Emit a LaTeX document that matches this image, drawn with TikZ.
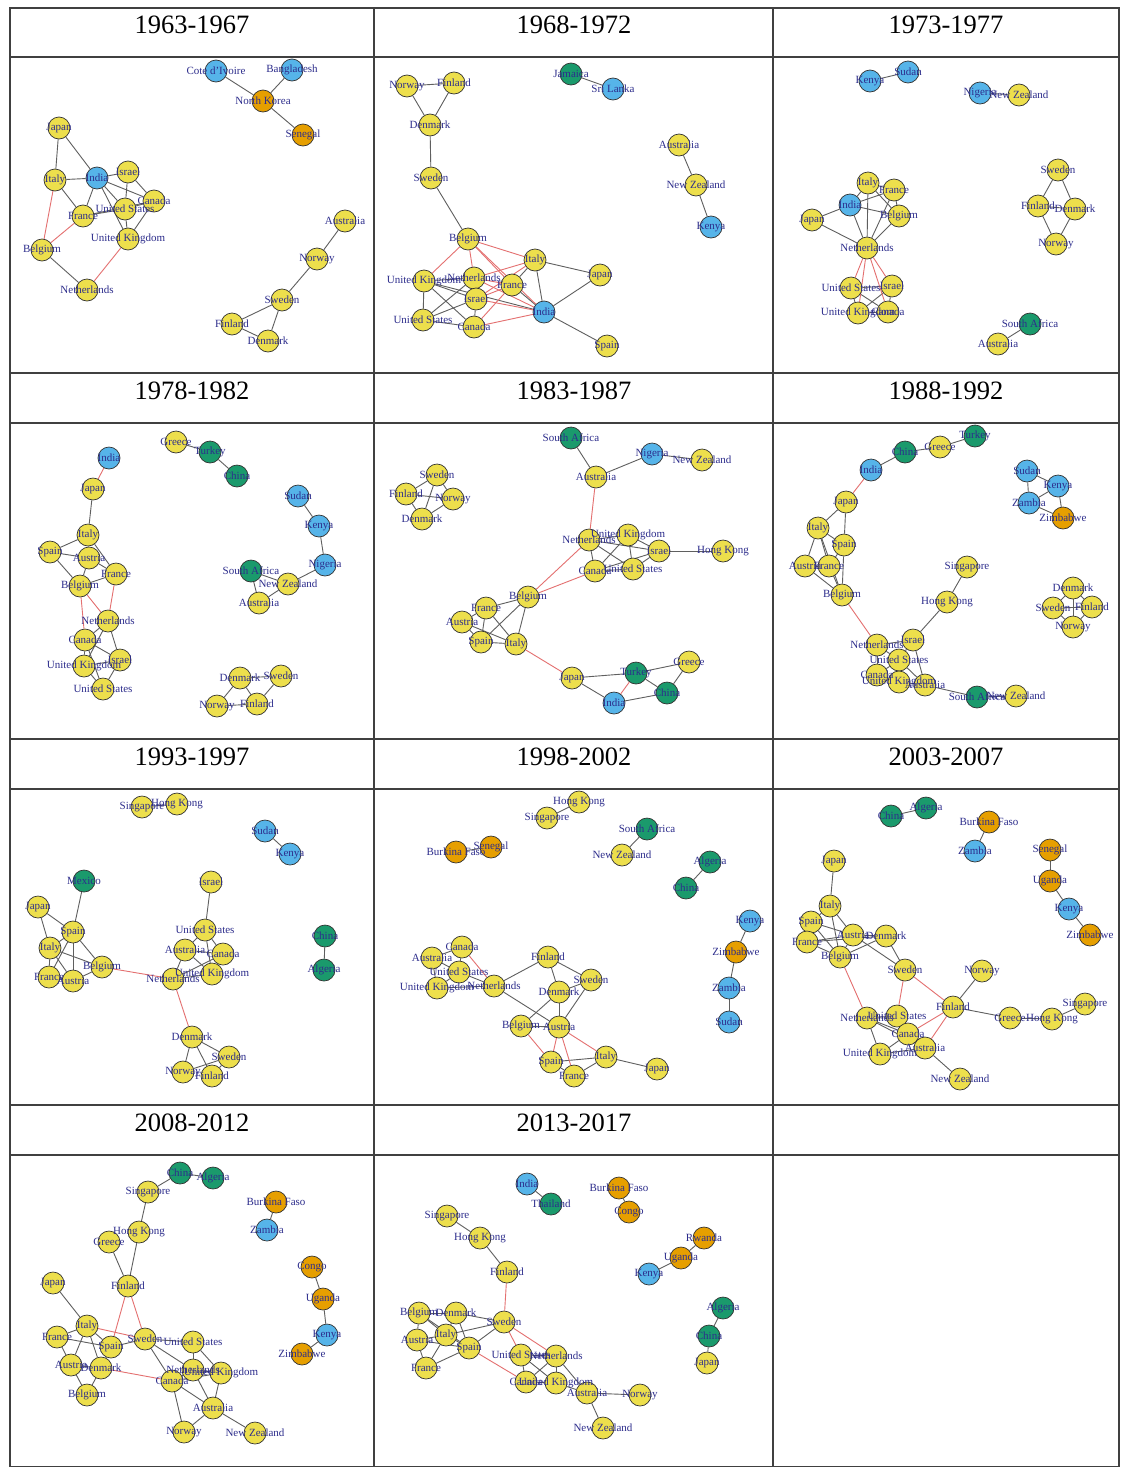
\documentclass[tikz,border=0pt]{standalone}
\usepackage{fontspec}
\setmainfont{Liberation Serif}
\pgfdeclarelayer{bg}\pgfsetlayers{bg,main}
\definecolor{cY}{HTML}{EDDF4C}
\definecolor{cB}{HTML}{56B4E9}
\definecolor{cO}{HTML}{E69F00}
\definecolor{cG}{HTML}{1A9A6C}
\definecolor{labc}{RGB}{45,45,140}
\definecolor{edg}{RGB}{95,95,95}
\definecolor{edr}{RGB}{228,112,112}
\tikzset{
  vtx/.style={circle,draw=black!80,line width=0.7pt,minimum size=22pt,inner sep=0pt},
  vY/.style={vtx,fill=cY}, vB/.style={vtx,fill=cB}, vO/.style={vtx,fill=cO}, vG/.style={vtx,fill=cG},
  lab/.style={text=labc,font=\fontsize{11}{11}\selectfont,inner sep=0pt},
  ge/.style={draw=edg,line width=0.9pt},
  re/.style={draw=edr,line width=0.9pt},
  ttl/.style={font=\fontsize{26.5}{26.5}\selectfont,text=black,inner sep=0pt},
  grid/.style={draw=black!75,line width=1.2pt}
}
\gdef\LabList{}
\newcommand\Vx[4]{\node[v#3] (#1) at (#2) {};\expandafter\gdef\expandafter\LabList\expandafter{\LabList\node[lab] (#1L) at (#2) {#4};}}
\newcommand\EdG[1]{\foreach \a/\b in {#1}\draw[ge](\a)--(\b);}
\newcommand\EdR[1]{\foreach \a/\b in {#1}\draw[re](\a)--(\b);}
\begin{document}
\begin{tikzpicture}[x=1pt,y=-1pt]
\useasboundingbox (0,0) rectangle (1125,1467);
\begin{pgfonlayer}{bg}
\fill[white] (0,0) rectangle (1125,1467);
\end{pgfonlayer}
% grid
\draw[grid] (10,8) rectangle (1119,1467);
\foreach \yy in {57,373,423,739,789,1105,1155} \draw[grid] (10,\yy) -- (1119,\yy);
\draw[grid] (374,8) -- (374,1467);
\draw[grid] (773,8) -- (773,1467);
% titles
\node[ttl] (t1) at (192,25) {1963-1967};
\node[ttl] (t2) at (574,25) {1968-1972};
\node[ttl] (t3) at (946,25) {1973-1977};
\node[ttl] (t4) at (192,391) {1978-1982};
\node[ttl] (t5) at (574,391) {1983-1987};
\node[ttl] (t6) at (946,391) {1988-1992};
\node[ttl] (t7) at (192,757) {1993-1997};
\node[ttl] (t8) at (574,757) {1998-2002};
\node[ttl] (t9) at (946,757) {2003-2007};
\node[ttl] (t10) at (192,1123) {2008-2012};
\node[ttl] (t11) at (574,1123) {2013-2017};

% ===== panel a 1963-1967
\Vx{aCI}{216,71}{B}{Cote d'Ivoire}
\Vx{aBD}{292,70}{B}{Bangladesh}
\Vx{aKP}{263,101}{O}{North Korea}
\Vx{aSN}{303,135}{O}{Senegal}
\Vx{aJP}{59,128}{Y}{Japan}
\Vx{aIT}{55,180}{Y}{Italy}
\Vx{aIN}{97,178}{B}{India}
\Vx{aIL}{128,172}{Y}{Israel}
\Vx{aCA}{154,201}{Y}{Canada}
\Vx{aUS}{125,209}{Y}{United States}
\Vx{aFR}{83,216}{Y}{France}
\Vx{aUK}{128,239}{Y}{United Kingdom}
\Vx{aBE}{42,250}{Y}{Belgium}
\Vx{aNL}{87,290}{Y}{Netherlands}
\Vx{aAU}{345,221}{Y}{Australia}
\Vx{aNO}{317,259}{Y}{Norway}
\Vx{aSE}{282,300}{Y}{Sweden}
\Vx{aFI}{232,324}{Y}{Finland}
\Vx{aDK}{268,341}{Y}{Denmark}
\begin{pgfonlayer}{bg}
\EdG{aCI/aKP,aBD/aKP,aKP/aSN,aJP/aIT,aJP/aIN,aIT/aIN,aIT/aFR,aIN/aIL,aIN/aCA,aIN/aUS,aIN/aFR,aIN/aUK,aIL/aUS,aIL/aCA,aCA/aUS,aCA/aUK,aFR/aUS,aFR/aCA,aUS/aUK,aBE/aNL,aAU/aNO,aNO/aSE,aSE/aFI,aSE/aDK,aFI/aDK}
\EdR{aIT/aBE,aFR/aBE,aUK/aNL}
\end{pgfonlayer}

% ===== panel b 1968-1972
\Vx{bNO}{407,86}{Y}{Norway}
\Vx{bFI}{454,83}{Y}{Finland}
\Vx{bDK}{430,125}{Y}{Denmark}
\Vx{bJM}{571,74}{G}{Jamaica}
\Vx{bLK}{613,89}{B}{Sri Lanka}
\Vx{bSE}{431,178}{Y}{Sweden}
\Vx{bAU}{679,145}{Y}{Australia}
\Vx{bNZ}{696,185}{Y}{New Zealand}
\Vx{bKE}{711,227}{B}{Kenya}
\Vx{bBE}{468,239}{Y}{Belgium}
\Vx{bIT}{535,260}{Y}{Italy}
\Vx{bJP}{600,275}{Y}{Japan}
\Vx{bUK}{424,281}{Y}{United Kingdom}
\Vx{bNL}{474,278}{Y}{Netherlands}
\Vx{bFR}{512,285}{Y}{France}
\Vx{bIL}{476,299}{Y}{Israel}
\Vx{bIN}{544,312}{B}{India}
\Vx{bUS}{423,320}{Y}{United States}
\Vx{bCA}{474,327}{Y}{Canada}
\Vx{bES}{607,346}{Y}{Spain}
\begin{pgfonlayer}{bg}
\EdG{bNO/bFI,bNO/bDK,bFI/bDK,bDK/bSE,bSE/bBE,bJM/bLK,bAU/bNZ,bNZ/bKE,bIT/bJP,bIT/bIN,bJP/bIN,bIN/bES,bIN/bUK,bIN/bFR,bUK/bNL,bUK/bUS,bUK/bCA,bUK/bIL,bNL/bIL,bNL/bUS,bIL/bCA,bIL/bUS,bUS/bCA,bIT/bFR}
\EdR{bBE/bIT,bBE/bUK,bBE/bNL,bBE/bFR,bBE/bIN,bIT/bNL,bIT/bIL,bIN/bNL,bIN/bCA,bIN/bIL,bNL/bFR,bIL/bFR,bFR/bCA}
\end{pgfonlayer}

% ===== panel c 1973-1977
\Vx{cKE}{870,81}{B}{Kenya}
\Vx{cSD}{908,72}{B}{Sudan}
\Vx{cNG}{980,93}{B}{Nigeria}
\Vx{cNZ}{1019,95}{Y}{New Zealand}
\Vx{cSE}{1058,170}{Y}{Sweden}
\Vx{cFI}{1038,206}{Y}{Finland}
\Vx{cDK}{1075,209}{Y}{Denmark}
\Vx{cNO}{1056,244}{Y}{Norway}
\Vx{cIT}{868,183}{Y}{Italy}
\Vx{cFR}{894,190}{Y}{France}
\Vx{cIN}{850,205}{B}{India}
\Vx{cBE}{899,216}{Y}{Belgium}
\Vx{cJP}{812,220}{Y}{Japan}
\Vx{cNL}{867,248}{Y}{Netherlands}
\Vx{cUS}{851,288}{Y}{United States}
\Vx{cIL}{892,286}{Y}{Israel}
\Vx{cUK}{858,313}{Y}{United Kingdom}
\Vx{cCA}{888,312}{Y}{Canada}
\Vx{cZA}{1030,324}{G}{South Africa}
\Vx{cAU}{998,344}{Y}{Australia}
\begin{pgfonlayer}{bg}
\EdG{cKE/cSD,cNG/cNZ,cSE/cFI,cSE/cDK,cFI/cNO,cDK/cNO,cFI/cDK,cIT/cFR,cIT/cIN,cIT/cBE,cIT/cNL,cFR/cIN,cIN/cBE,cFR/cBE,cFR/cNL,cBE/cNL,cIN/cJP,cJP/cNL,cIN/cNL,cUS/cIL,cUS/cUK,cUS/cCA,cIL/cUK,cIL/cCA,cUK/cCA,cZA/cAU}
\EdR{cNL/cUS,cNL/cIL,cNL/cUK,cNL/cCA}
\end{pgfonlayer}

% ===== panel d 1978-1982
\Vx{dIN}{109,458}{B}{India}
\Vx{dJP}{93,489}{Y}{Japan}
\Vx{dGR}{176,442}{Y}{Greece}
\Vx{dTR}{210,452}{G}{Turkey}
\Vx{dCN}{237,476}{G}{China}
\Vx{dSD}{298,496}{B}{Sudan}
\Vx{dKE}{319,526}{B}{Kenya}
\Vx{dNG}{325,565}{B}{Nigeria}
\Vx{dZA}{251,571}{G}{South Africa}
\Vx{dNZ}{288,584}{Y}{New Zealand}
\Vx{dAU}{259,603}{Y}{Australia}
\Vx{dIT}{88,535}{Y}{Italy}
\Vx{dES}{50,552}{Y}{Spain}
\Vx{dAT}{89,558}{Y}{Austria}
\Vx{dFR}{116,574}{Y}{France}
\Vx{dBE}{80,586}{Y}{Belgium}
\Vx{dNL}{108,621}{Y}{Netherlands}
\Vx{dCA}{85,640}{Y}{Canada}
\Vx{dIL}{120,660}{Y}{Israel}
\Vx{dUK}{84,666}{Y}{United Kingdom}
\Vx{dUS}{103,689}{Y}{United States}
\Vx{dDK}{240,678}{Y}{Denmark}
\Vx{dSE}{281,676}{Y}{Sweden}
\Vx{dNO}{217,706}{Y}{Norway}
\Vx{dFI}{257,704}{Y}{Finland}
\begin{pgfonlayer}{bg}
\EdG{dJP/dIT,dIT/dES,dIT/dAT,dIT/dFR,dES/dAT,dES/dBE,dAT/dFR,dAT/dBE,dFR/dBE,dNL/dCA,dNL/dIL,dNL/dUK,dCA/dIL,dCA/dUK,dCA/dUS,dUK/dIL,dUK/dUS,dIL/dUS,dGR/dTR,dTR/dCN,dSD/dKE,dKE/dNG,dNG/dNZ,dZA/dAU,dZA/dNZ,dNZ/dAU,dDK/dSE,dDK/dNO,dDK/dFI,dNO/dFI,dSE/dFI}
\EdR{dIN/dJP,dBE/dNL,dBE/dCA,dFR/dNL}
\end{pgfonlayer}

% ===== panel e 1983-1987
\Vx{eZA}{571,438}{G}{South Africa}
\Vx{eNG}{652,454}{B}{Nigeria}
\Vx{eNZ}{702,460}{Y}{New Zealand}
\Vx{eAU}{596,477}{Y}{Australia}
\Vx{eSE}{437,475}{Y}{Sweden}
\Vx{eFI}{406,494}{Y}{Finland}
\Vx{eNO}{453,499}{Y}{Norway}
\Vx{eDK}{422,519}{Y}{Denmark}
\Vx{eNL}{589,540}{Y}{Netherlands}
\Vx{eUK}{628,535}{Y}{United Kingdom}
\Vx{eIL}{659,551}{Y}{Israel}
\Vx{eHK}{723,551}{Y}{Hong Kong}
\Vx{eCA}{595,571}{Y}{Canada}
\Vx{eUS}{633,569}{Y}{United States}
\Vx{eBE}{528,597}{Y}{Belgium}
\Vx{eFR}{486,608}{Y}{France}
\Vx{eAT}{462,622}{Y}{Austria}
\Vx{eES}{481,642}{Y}{Spain}
\Vx{eIT}{516,644}{Y}{Italy}
\Vx{eJP}{572,678}{Y}{Japan}
\Vx{eTR}{636,673}{G}{Turkey}
\Vx{eGR}{689,662}{Y}{Greece}
\Vx{eCN}{667,693}{G}{China}
\Vx{eIN}{614,703}{B}{India}
\begin{pgfonlayer}{bg}
\EdG{eZA/eAU,eNG/eAU,eNG/eNZ,eSE/eFI,eSE/eNO,eSE/eDK,eFI/eNO,eFI/eDK,eNO/eDK,eNL/eUK,eNL/eIL,eNL/eCA,eNL/eUS,eUK/eIL,eUK/eUS,eUK/eCA,eIL/eUS,eIL/eCA,eCA/eUS,eIL/eHK,eBE/eFR,eBE/eES,eBE/eIT,eFR/eAT,eFR/eES,eFR/eIT,eAT/eES,eES/eIT,eAT/eIT,eJP/eTR,eJP/eIN,eTR/eGR,eTR/eCN,eGR/eCN,eCN/eIN}
\EdR{eAU/eNL,eNL/eBE,eCA/eBE,eIT/eJP,eTR/eIN}
\end{pgfonlayer}

% ===== panel f 1988-1992
\Vx{fTR}{975,436}{G}{Turkey}
\Vx{fGR}{940,447}{Y}{Greece}
\Vx{fCN}{905,452}{G}{China}
\Vx{fIN}{871,470}{B}{India}
\Vx{fSD}{1027,471}{B}{Sudan}
\Vx{fKE}{1058,486}{B}{Kenya}
\Vx{fZM}{1029,503}{B}{Zambia}
\Vx{fZW}{1063,518}{O}{Zimbabwe}
\Vx{fJP}{846,502}{Y}{Japan}
\Vx{fIT}{818,528}{Y}{Italy}
\Vx{fES}{844,545}{Y}{Spain}
\Vx{fAT}{805,566}{Y}{Austria}
\Vx{fFR}{829,566}{Y}{France}
\Vx{fBE}{842,595}{Y}{Belgium}
\Vx{fSG}{967,567}{Y}{Singapore}
\Vx{fHK}{947,602}{Y}{Hong Kong}
\Vx{fDK}{1073,588}{Y}{Denmark}
\Vx{fSE}{1053,608}{Y}{Sweden}
\Vx{fFI}{1092,607}{Y}{Finland}
\Vx{fNO}{1073,627}{Y}{Norway}
\Vx{fNL}{877,645}{Y}{Netherlands}
\Vx{fIL}{913,640}{Y}{Israel}
\Vx{fUS}{899,660}{Y}{United States}
\Vx{fCA}{877,675}{Y}{Canada}
\Vx{fUK}{899,682}{Y}{United Kingdom}
\Vx{fAU}{925,685}{Y}{Australia}
\Vx{fZA}{977,697}{G}{South Africa}
\Vx{fNZ}{1016,696}{Y}{New Zealand}
\begin{pgfonlayer}{bg}
\EdG{fTR/fGR,fGR/fCN,fCN/fIN,fJP/fIT,fJP/fES,fIT/fES,fIT/fAT,fIT/fFR,fES/fFR,fES/fBE,fAT/fFR,fAT/fBE,fFR/fBE,fIT/fBE,fSG/fHK,fHK/fIL,fNL/fIL,fNL/fUS,fNL/fCA,fIL/fUS,fUS/fCA,fUS/fUK,fUS/fAU,fCA/fUK,fUK/fAU,fAU/fZA,fZA/fNZ,fIL/fAU,fSD/fKE,fSD/fZM,fKE/fZM,fKE/fZW,fZM/fZW,fDK/fSE,fDK/fFI,fDK/fNO,fSE/fFI,fSE/fNO,fFI/fNO}
\EdR{fIN/fJP,fBE/fNL}
\end{pgfonlayer}

% ===== panel g 1993-1997
\Vx{gSG}{142,807}{Y}{Singapore}
\Vx{gHK}{177,804}{Y}{Hong Kong}
\Vx{gSD}{265,831}{B}{Sudan}
\Vx{gKE}{290,854}{B}{Kenya}
\Vx{gMX}{84,881}{G}{Mexico}
\Vx{gIL}{211,882}{Y}{Israel}
\Vx{gJP}{38,907}{Y}{Japan}
\Vx{gES}{73,932}{Y}{Spain}
\Vx{gUS}{205,930}{Y}{United States}
\Vx{gCN}{325,936}{G}{China}
\Vx{gIT}{50,948}{Y}{Italy}
\Vx{gAU}{185,950}{Y}{Australia}
\Vx{gCA}{223,954}{Y}{Canada}
\Vx{gBE}{102,967}{Y}{Belgium}
\Vx{gUK}{212,974}{Y}{United Kingdom}
\Vx{gDZ}{324,970}{G}{Algeria}
\Vx{gFR}{49,977}{Y}{France}
\Vx{gAT}{73,981}{Y}{Austria}
\Vx{gNL}{173,979}{Y}{Netherlands}
\Vx{gDK}{192,1037}{Y}{Denmark}
\Vx{gSE}{229,1057}{Y}{Sweden}
\Vx{gNO}{183,1072}{Y}{Norway}
\Vx{gFI}{212,1076}{Y}{Finland}
\begin{pgfonlayer}{bg}
\EdG{gSG/gHK,gSD/gKE,gCN/gDZ,gMX/gES,gJP/gES,gJP/gIT,gES/gIT,gES/gBE,gES/gAT,gES/gFR,gIT/gFR,gIT/gAT,gIT/gBE,gFR/gAT,gAT/gBE,gIL/gUS,gUS/gAU,gUS/gCA,gUS/gUK,gAU/gCA,gAU/gNL,gAU/gUK,gCA/gNL,gCA/gUK,gNL/gUK,gDK/gSE,gDK/gNO,gDK/gFI,gNO/gSE,gSE/gFI}
\EdR{gBE/gNL,gNL/gDK}
\end{pgfonlayer}

% ===== panel h 1998-2002
\Vx{hHK}{579,802}{Y}{Hong Kong}
\Vx{hSG}{547,818}{Y}{Singapore}
\Vx{hZA}{647,829}{G}{South Africa}
\Vx{hBF}{456,852}{O}{Burkina Faso}
\Vx{hSN}{491,847}{O}{Senegal}
\Vx{hNZ}{622,855}{Y}{New Zealand}
\Vx{hDZ}{710,862}{G}{Algeria}
\Vx{hCN}{686,888}{G}{China}
\Vx{hKE}{750,921}{B}{Kenya}
\Vx{hZW}{736,952}{O}{Zimbabwe}
\Vx{hZM}{729,988}{B}{Zambia}
\Vx{hSD}{729,1022}{B}{Sudan}
\Vx{hCA}{462,947}{Y}{Canada}
\Vx{hAU}{432,958}{Y}{Australia}
\Vx{hFI}{548,957}{Y}{Finland}
\Vx{hUS}{459,972}{Y}{United States}
\Vx{hSE}{591,980}{Y}{Sweden}
\Vx{hUK}{437,988}{Y}{United Kingdom}
\Vx{hNL}{494,986}{Y}{Netherlands}
\Vx{hDK}{559,992}{Y}{Denmark}
\Vx{hBE}{521,1026}{Y}{Belgium}
\Vx{hAT}{559,1027}{Y}{Austria}
\Vx{hES}{551,1062}{Y}{Spain}
\Vx{hIT}{606,1057}{Y}{Italy}
\Vx{hFR}{574,1076}{Y}{France}
\Vx{hJP}{657,1069}{Y}{Japan}
\begin{pgfonlayer}{bg}
\EdG{hHK/hSG,hZA/hNZ,hSN/hBF,hDZ/hCN,hKE/hZW,hZW/hZM,hZM/hSD,hCA/hAU,hCA/hUS,hAU/hUS,hAU/hUK,hUS/hUK,hUS/hNL,hUK/hNL,hNL/hFI,hNL/hAT,hFI/hDK,hFI/hSE,hSE/hDK,hSE/hAT,hDK/hBE,hDK/hAT,hBE/hAT,hES/hIT,hES/hFR,hIT/hFR,hIT/hJP}
\EdR{hCA/hNL,hBE/hES,hAT/hES,hAT/hFR,hAT/hIT}
\end{pgfonlayer}

% ===== panel i 2003-2007
\Vx{iCN}{891,816}{G}{China}
\Vx{iDZ}{926,808}{G}{Algeria}
\Vx{iBF}{989,822}{O}{Burkina Faso}
\Vx{iZM}{975,851}{B}{Zambia}
\Vx{iSN}{1050,850}{O}{Senegal}
\Vx{iUG}{1050,881}{O}{Uganda}
\Vx{iKE}{1069,909}{B}{Kenya}
\Vx{iZW}{1090,935}{O}{Zimbabwe}
\Vx{iJP}{834,861}{Y}{Japan}
\Vx{iIT}{830,906}{Y}{Italy}
\Vx{iES}{811,922}{Y}{Spain}
\Vx{iAT}{853,935}{Y}{Austria}
\Vx{iDK}{886,936}{Y}{Denmark}
\Vx{iFR}{807,942}{Y}{France}
\Vx{iBE}{840,957}{Y}{Belgium}
\Vx{iSE}{905,970}{Y}{Sweden}
\Vx{iNO}{982,971}{Y}{Norway}
\Vx{iFI}{953,1007}{Y}{Finland}
\Vx{iSG}{1085,1004}{Y}{Singapore}
\Vx{iGR}{1010,1018}{Y}{Greece}
\Vx{iHK}{1052,1019}{Y}{Hong Kong}
\Vx{iNL}{867,1018}{Y}{Netherlands}
\Vx{iUS}{897,1016}{Y}{United States}
\Vx{iCA}{908,1034}{Y}{Canada}
\Vx{iAU}{925,1048}{Y}{Australia}
\Vx{iUK}{880,1054}{Y}{United Kingdom}
\Vx{iNZ}{960,1079}{Y}{New Zealand}
\begin{pgfonlayer}{bg}
\EdG{iCN/iDZ,iBF/iZM,iSN/iUG,iUG/iKE,iKE/iZW,iJP/iIT,iIT/iES,iIT/iAT,iIT/iBE,iES/iFR,iES/iAT,iES/iBE,iFR/iAT,iFR/iBE,iAT/iDK,iAT/iBE,iDK/iBE,iDK/iSE,iAT/iSE,iNO/iFI,iFI/iGR,iGR/iHK,iHK/iSG,iNL/iUS,iNL/iCA,iNL/iUK,iUS/iCA,iCA/iAU,iCA/iUK,iUK/iAU,iAU/iNZ,iNL/iAU,iFR/iDK}
\EdR{iBE/iNL,iSE/iUS,iSE/iFI,iFI/iCA,iFI/iAU}
\end{pgfonlayer}

% ===== panel j 2008-2012
\Vx{jCN}{180,1173}{G}{China}
\Vx{jDZ}{213,1178}{G}{Algeria}
\Vx{jSG}{148,1192}{Y}{Singapore}
\Vx{jBF}{276,1202}{O}{Burkina Faso}
\Vx{jZM}{267,1230}{B}{Zambia}
\Vx{jHK}{139,1232}{Y}{Hong Kong}
\Vx{jGR}{109,1242}{Y}{Greece}
\Vx{jCG}{312,1267}{O}{Congo}
\Vx{jJP}{53,1283}{Y}{Japan}
\Vx{jFI}{128,1286}{Y}{Finland}
\Vx{jUG}{323,1299}{O}{Uganda}
\Vx{jKE}{327,1335}{B}{Kenya}
\Vx{jIT}{87,1326}{Y}{Italy}
\Vx{jFR}{57,1337}{Y}{France}
\Vx{jSE}{145,1339}{Y}{Sweden}
\Vx{jUS}{193,1342}{Y}{United States}
\Vx{jES}{111,1347}{Y}{Spain}
\Vx{jZW}{302,1354}{O}{Zimbabwe}
\Vx{jAT}{71,1365}{Y}{Austria}
\Vx{jDK}{101,1368}{Y}{Denmark}
\Vx{jNL}{193,1370}{Y}{Netherlands}
\Vx{jUK}{221,1373}{Y}{United Kingdom}
\Vx{jCA}{172,1381}{Y}{Canada}
\Vx{jBE}{87,1395}{Y}{Belgium}
\Vx{jAU}{213,1408}{Y}{Australia}
\Vx{jNO}{184,1432}{Y}{Norway}
\Vx{jNZ}{255,1433}{Y}{New Zealand}
\begin{pgfonlayer}{bg}
\EdG{jCN/jDZ,jCN/jSG,jSG/jHK,jHK/jFI,jGR/jFI,jBF/jZM,jCG/jUG,jUG/jKE,jKE/jZW,jJP/jIT,jIT/jFR,jIT/jES,jIT/jAT,jIT/jDK,jFR/jES,jFR/jAT,jES/jDK,jES/jSE,jAT/jDK,jAT/jBE,jDK/jBE,jSE/jCA,jSE/jNL,jSE/jUS,jUS/jNL,jUS/jUK,jNL/jUK,jNL/jCA,jNL/jAU,jUK/jAU,jCA/jAU,jCA/jNO,jAU/jNO,jAU/jNZ,jCA/jUK}
\EdR{jFI/jES,jFI/jSE,jIT/jSE,jDK/jCA}
\end{pgfonlayer}

% ===== panel k 2013-2017
\Vx{kIN}{527,1184}{B}{India}
\Vx{kTH}{551,1204}{G}{Thailand}
\Vx{kBF}{619,1188}{O}{Burkina Faso}
\Vx{kCG}{629,1212}{O}{Congo}
\Vx{kSG}{447,1216}{Y}{Singapore}
\Vx{kHK}{480,1238}{Y}{Hong Kong}
\Vx{kRW}{704,1238}{O}{Rwanda}
\Vx{kUG}{681,1258}{O}{Uganda}
\Vx{kKE}{649,1274}{B}{Kenya}
\Vx{kFI}{507,1272}{Y}{Finland}
\Vx{kDZ}{723,1308}{G}{Algeria}
\Vx{kBE}{419,1313}{Y}{Belgium}
\Vx{kDK}{456,1313}{Y}{Denmark}
\Vx{kSE}{504,1322}{Y}{Sweden}
\Vx{kIT}{446,1335}{Y}{Italy}
\Vx{kAT}{417,1340}{Y}{Austria}
\Vx{kCN}{709,1336}{G}{China}
\Vx{kES}{469,1348}{Y}{Spain}
\Vx{kUS}{521,1355}{Y}{United States}
\Vx{kNL}{556,1356}{Y}{Netherlands}
\Vx{kJP}{707,1363}{Y}{Japan}
\Vx{kFR}{426,1368}{Y}{France}
\Vx{kCA}{526,1382}{Y}{Canada}
\Vx{kUK}{556,1383}{Y}{United Kingdom}
\Vx{kAU}{587,1393}{Y}{Australia}
\Vx{kNO}{640,1395}{Y}{Norway}
\Vx{kNZ}{603,1428}{Y}{New Zealand}
\begin{pgfonlayer}{bg}
\EdG{kIN/kTH,kBF/kCG,kSG/kHK,kHK/kFI,kRW/kUG,kUG/kKE,kDZ/kCN,kCN/kJP,kBE/kDK,kBE/kIT,kBE/kAT,kBE/kES,kDK/kIT,kDK/kSE,kDK/kES,kIT/kAT,kIT/kES,kIT/kSE,kAT/kES,kAT/kFR,kES/kFR,kIT/kFR,kES/kSE,kUS/kNL,kUS/kCA,kUS/kUK,kNL/kCA,kNL/kUK,kNL/kAU,kCA/kUK,kUK/kAU,kAU/kNO,kAU/kNZ}
\EdR{kFI/kSE,kES/kCA,kSE/kUS,kSE/kNL}
\end{pgfonlayer}

% labels on top of all circles
\LabList
\end{tikzpicture}
\end{document}
